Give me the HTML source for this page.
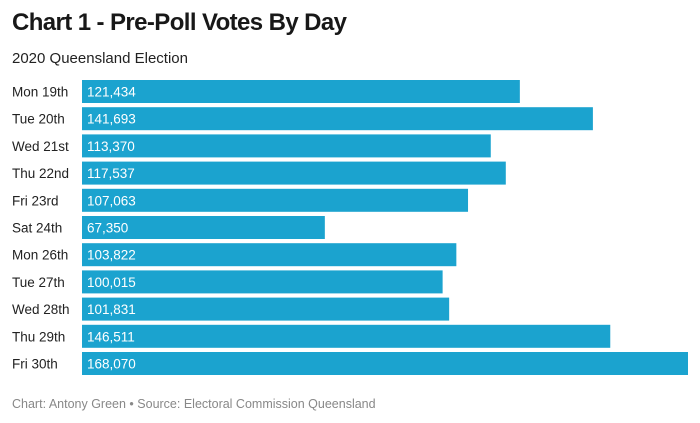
<!DOCTYPE html>
<html><head><meta charset="utf-8">
<style>
body{margin:0;background:#fff;font-family:"Liberation Sans",sans-serif;}
#wrap{position:relative;width:700px;height:423px;overflow:hidden;}
.title{position:absolute;left:12px;top:9px;font-size:24px;font-weight:bold;color:#181818;letter-spacing:-0.6px}
.sub{position:absolute;left:12px;top:50px;font-size:15px;color:#222}
.foot{position:absolute;left:12px;top:397px;font-size:12.5px;color:#888}
</style></head><body>
<div id="wrap">
<div class="title">Chart 1 - Pre-Poll Votes By Day</div>
<div class="sub">2020 Queensland Election</div>
<svg id="chart" width="700" height="423" style="position:absolute;left:0;top:0"></svg>
<div class="foot">Chart: Antony Green • Source: Electoral Commission Queensland</div>
</div>
<script>
const categories=["Mon 19th","Tue 20th","Wed 21st","Thu 22nd","Fri 23rd","Sat 24th","Mon 26th","Tue 27th","Wed 28th","Thu 29th","Fri 30th"];
const votes=[121434,141693,113370,117537,107063,67350,103822,100015,101831,146511,168070];
const labels=["121,434","141,693","113,370","117,537","107,063","67,350","103,822","100,015","101,831","146,511","168,070"];
const svg=document.getElementById('chart');
const NS='http://www.w3.org/2000/svg';
const x0=82,x1=688,maxV=168070;
function xs(v){return x0+(v/maxV)*(x1-x0);}
function yc(i){return 91.5+i*27.2;}
const bh=23;
categories.forEach((c,i)=>{
  const t=document.createElementNS(NS,'text');
  
  
  t.setAttribute('x',12);t.setAttribute('y',yc(i)+5);
  t.setAttribute('font-size','13.5');t.setAttribute('fill','#222');
  t.textContent=c;svg.appendChild(t);
  const r=document.createElementNS(NS,'rect');
  
  
  r.setAttribute('x',x0);r.setAttribute('y',yc(i)-bh/2);
  r.setAttribute('width',xs(votes[i])-x0);r.setAttribute('height',bh);
  r.setAttribute('fill','#1ba3cf');svg.appendChild(r);
  const v=document.createElementNS(NS,'text');
  
  
  v.setAttribute('x',x0+5);v.setAttribute('y',yc(i)+5);
  v.setAttribute('font-size','13.5');v.setAttribute('fill','#fff');
  v.textContent=labels[i];svg.appendChild(v);
});
</script>
</body></html>
